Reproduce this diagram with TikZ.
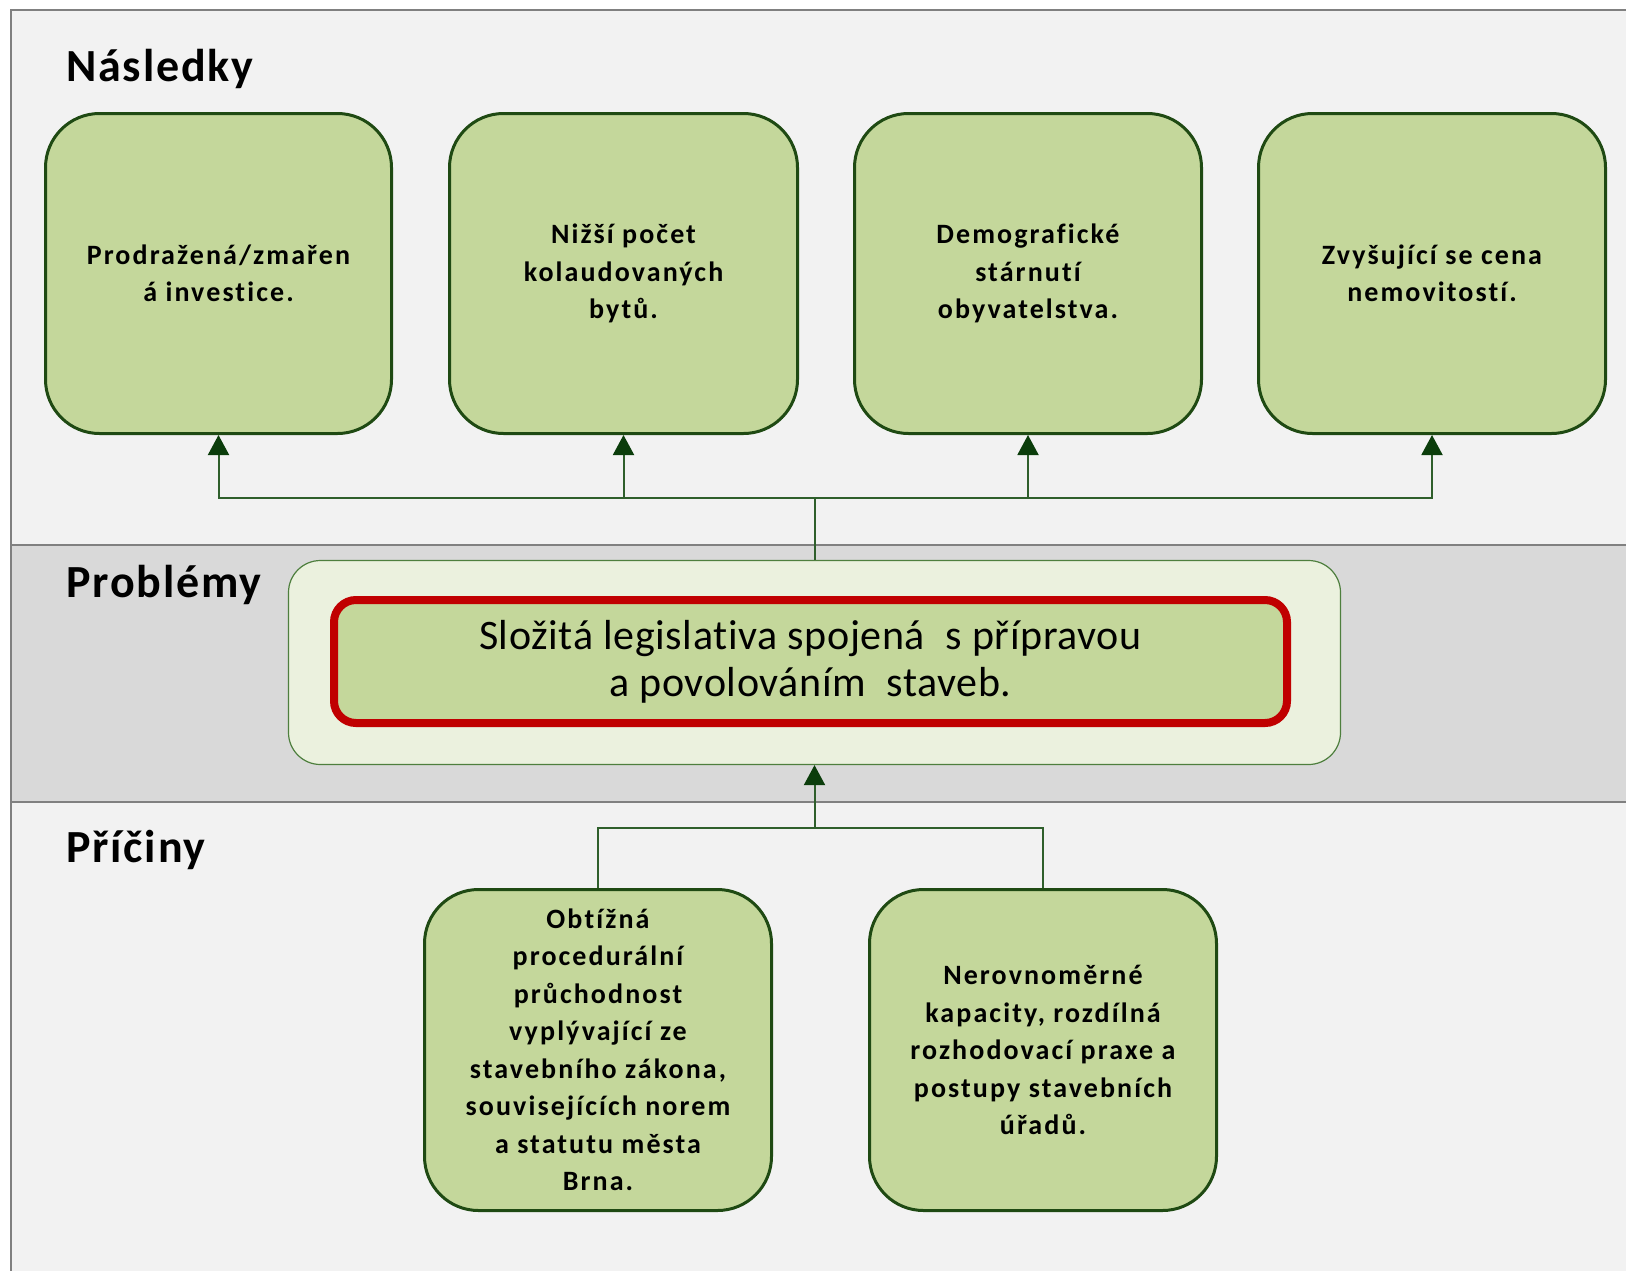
\documentclass[tikz,border=0pt]{standalone}
\usepackage{fontspec}
\setmainfont{Carlito}[Ligatures={NoCommon}]
\newfontfamily\boxfont{Carlito}[LetterSpace=7.5,Ligatures={NoCommon}]
\newfontfamily\labfont{Carlito}[LetterSpace=4,Ligatures={NoCommon}]
\newfontfamily\probfont{Carlito}[LetterSpace=1.5,Ligatures={NoCommon}]
\usetikzlibrary{arrows.meta}
\definecolor{bglight}{HTML}{F2F2F2}
\definecolor{bgband}{HTML}{D9D9D9}
\definecolor{framegray}{HTML}{808080}
\definecolor{boxfill}{HTML}{C4D79B}
\definecolor{boxdraw}{HTML}{1F4A13}
\definecolor{pfill}{HTML}{EBF1DE}
\definecolor{pdraw}{HTML}{4E7F3E}
\definecolor{pred}{HTML}{C00000}
\definecolor{conncol}{HTML}{2F5F2C}
\definecolor{tipcol}{HTML}{0B3D0B}
\tikzset{
  effbox/.style={draw=boxdraw, line width=3pt, fill=boxfill, rounded corners=54pt,
    inner sep=0pt, align=center, font=\boxfont\bfseries\fontsize{28pt}{37.5pt}\selectfont},
  seclabel/.style={anchor=base west, inner sep=0pt, font=\labfont\bfseries\fontsize{46pt}{50pt}\selectfont},
  conn/.style={draw=conncol, line width=2pt},
  arr/.style={conn, -{Triangle[length=20pt,width=21pt,color=tipcol]}},
}
\begin{document}
\begin{tikzpicture}[x=1pt,y=-1pt]
\useasboundingbox (0,0) rectangle (1626,1270);
\fill[white] (0,0) rectangle (1626,1270);
% sections
\fill[bglight] (11,10) rectangle (1630,545);
\fill[bgband] (11,545) rectangle (1630,802);
\fill[bglight] (11,802) rectangle (1630,1275);
\draw[framegray, line width=2.5pt] (11,1280) -- (11,10) -- (1640,10);
\draw[framegray, line width=2.5pt] (11,545) -- (1640,545);
\draw[framegray, line width=2.5pt] (11,802) -- (1640,802);
% section labels
\node[seclabel] (lnas) at (66,81) {Následky};
\node[seclabel] (lpro) at (66,597) {Problémy};
\node[seclabel] (lpri) at (66,862) {Příčiny};
% effect boxes
\node[effbox, minimum width=346pt, minimum height=320pt] (e1) at (218.5,273.5) {Prodražená/zmařen\\á investice.};
\node[effbox, minimum width=348pt, minimum height=320pt] (e2) at (623.5,273.5) {Nižší počet\\kolaudovaných\\bytů.};
\node[effbox, minimum width=347pt, minimum height=320pt] (e3) at (1028,273.5) {Demografické\\stárnutí\\obyvatelstva.};
\node[effbox, minimum width=347pt, minimum height=320pt] (e4) at (1432,273.5) {Zvyšující se cena\\nemovitostí.};
% problem
\node[draw=pdraw, line width=1.2pt, fill=pfill, rounded corners=32pt, minimum width=1052pt, minimum height=204pt, inner sep=0pt] (pbox) at (814.5,662.5) {};
\node[draw=pred, line width=8pt, fill=boxfill, rounded corners=22pt, minimum width=953pt, minimum height=123pt, inner sep=0pt, align=center,
  font=\probfont\fontsize{42pt}{47pt}\selectfont] (prob) at (810.5,661.5) {Složitá legislativa spojená\hspace{0.25em} s přípravou\\a povolováním\hspace{0.25em} staveb.};
% cause boxes
\node[effbox, minimum width=347pt, minimum height=321pt] (c1) at (598,1050) {Obtížná\\procedurální\\průchodnost\\vyplývající ze\\stavebního zákona,\\souvisejících norem\\a statutu města\\Brna.};
\node[effbox, minimum width=347pt, minimum height=321pt] (c2) at (1043,1050) {Nerovnoměrné\\kapacity, rozdílná\\rozhodovací praxe a\\postupy stavebních\\úřadů.};
% connectors top
\coordinate (hubtop) at (814.5,498);
\draw[conn] (pbox.north) -- (hubtop);
\draw[arr] (hubtop) -| (e1.south);
\draw[arr] (hubtop) -| (e2.south);
\draw[arr] (hubtop) -| (e3.south);
\draw[arr] (hubtop) -| (e4.south);
% connectors bottom
\coordinate (hubbot) at (814.5,828);
\draw[conn] (c1.north) |- (hubbot);
\draw[conn] (c2.north) |- (hubbot);
\draw[arr] (hubbot) -- (pbox.south);
\end{tikzpicture}
\end{document}
